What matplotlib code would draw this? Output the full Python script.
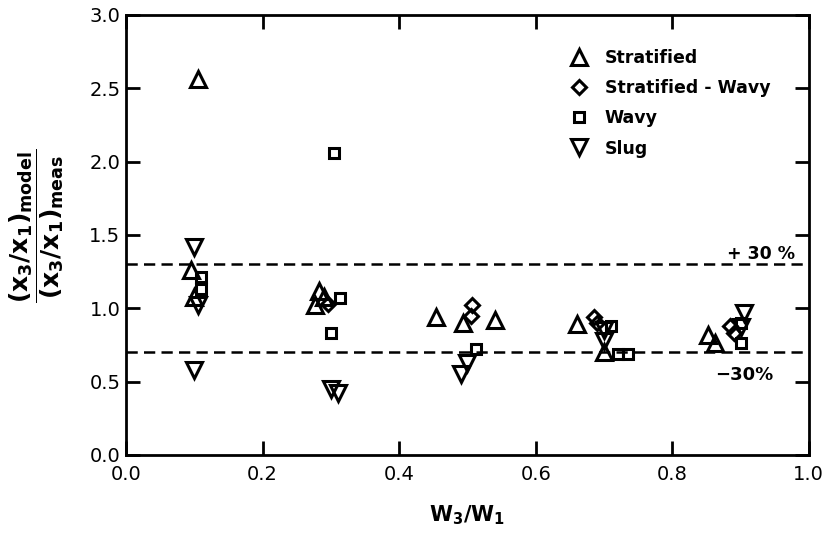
import numpy as np
import matplotlib
matplotlib.use('Agg')
import matplotlib.pyplot as plt

# ── Data ─────────────────────────────────────────────────────────────────────
strat_x = [0.105, 0.095, 0.10, 0.283, 0.277, 0.29, 0.454, 0.493, 0.54, 0.66, 0.70, 0.852, 0.862]
strat_y = [2.56, 1.26, 1.08, 1.12, 1.02, 1.08, 0.94, 0.90, 0.92, 0.89, 0.70, 0.82, 0.76]

sw_x = [0.296, 0.507, 0.505, 0.685, 0.69, 0.885, 0.89]
sw_y = [1.03, 1.02, 0.95, 0.94, 0.90, 0.88, 0.83]

wavy_x = [0.11, 0.11, 0.305, 0.313, 0.30, 0.513, 0.71, 0.72, 0.735, 0.90, 0.90]
wavy_y = [1.21, 1.13, 2.06, 1.07, 0.83, 0.72, 0.88, 0.69, 0.69, 0.90, 0.76]

slug_x = [0.10, 0.105, 0.10, 0.30, 0.31, 0.50, 0.49, 0.70, 0.70, 0.905, 0.90]
slug_y = [1.42, 1.02, 0.58, 0.45, 0.42, 0.63, 0.55, 0.85, 0.78, 0.97, 0.87]

band_hi = 1.3
band_lo = 0.7

# ── Figure ───────────────────────────────────────────────────────────────────
plt.rcParams['font.family'] = ['DejaVu Sans']
plt.rcParams['mathtext.fontset'] = 'dejavusans'

fig = plt.figure(figsize=(8.27, 5.34), dpi=100)
ax = fig.add_axes([0.1524, 0.148, 0.8256, 0.824])

mk = dict(linestyle='none', markerfacecolor='none', markeredgecolor='black',
          markeredgewidth=2.2)
ax.plot(strat_x, strat_y, marker='^', markersize=11, label='Stratified', **mk)
ax.plot(sw_x, sw_y, marker='D', markersize=7, label='Stratified - Wavy', **mk)
ax.plot(wavy_x, wavy_y, marker='s', markersize=6.5, label='Wavy', **mk)
ax.plot(slug_x, slug_y, marker='v', markersize=11, label='Slug', **mk)

ax.axhline(band_hi, color='black', lw=1.8, linestyle=(0, (4.5, 2.5)))
ax.axhline(band_lo, color='black', lw=1.8, linestyle=(0, (4.5, 2.5)))
ax.text(0.93, 1.37, '+ 30 %', ha='center', va='center', fontsize=12.5, fontweight='bold')
ax.text(0.905, 0.545, '\u221230%', ha='center', va='center', fontsize=13, fontweight='bold')

ax.set_xlim(0, 1.0)
ax.set_ylim(0, 3.0)
ax.set_xticks(np.arange(0, 1.01, 0.2))
ax.set_yticks(np.arange(0, 3.01, 0.5))
ax.xaxis.set_major_formatter(matplotlib.ticker.FormatStrFormatter('%.1f'))
ax.yaxis.set_major_formatter(matplotlib.ticker.FormatStrFormatter('%.1f'))
ax.tick_params(direction='in', length=10, width=2, labelsize=14,
               top=True, right=True)
ax.tick_params(axis='x', pad=7)
ax.tick_params(axis='y', pad=4)
for s in ax.spines.values():
    s.set_linewidth(2)

ax.set_xlabel(r'$\mathbf{W_3/W_1}$', fontsize=15, labelpad=14)
ax.set_ylabel(r'$\dfrac{\mathbf{(x_3/x_1)_{model}}}{\mathbf{(x_3/x_1)_{meas}}}$',
              fontsize=18)
ax.yaxis.set_label_coords(-0.088, 0.52)

leg = ax.legend(loc='upper left', bbox_to_anchor=(0.625, 0.958), frameon=False,
                handlelength=1.2, handletextpad=0.9, labelspacing=0.7,
                prop={'weight': 'bold', 'size': 12.5})

fig.savefig('out.png', dpi=100)
